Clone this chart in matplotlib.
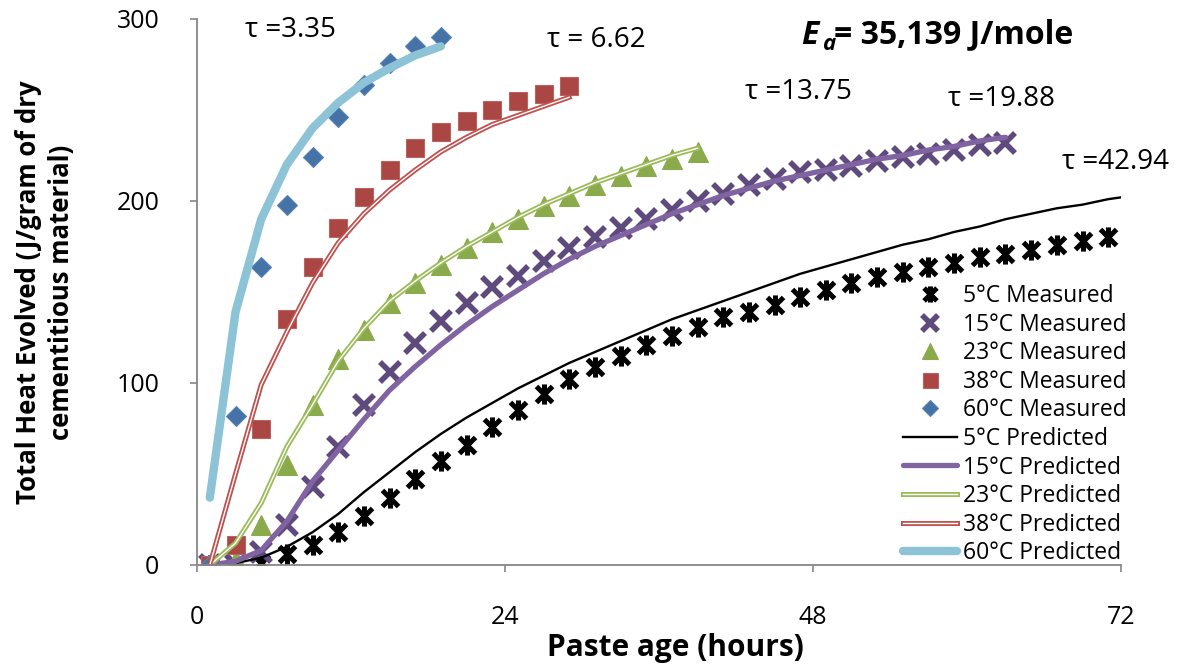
import matplotlib
matplotlib.use("Agg")
import matplotlib.pyplot as plt
from matplotlib.path import Path
from matplotlib.lines import Line2D

plt.rcParams['font.family'] = ['Open Sans', 'DejaVu Sans']

# ---------------- data ----------------
hours_5 = list(range(1, 72, 2))
meas_5 = [0, 0, 1, 6, 11, 18, 27, 37, 47, 57, 66, 76, 85, 94, 102, 109, 115, 121,
          126, 131, 136, 139, 143, 147, 151, 155, 158, 161, 164, 166, 169, 171, 173,
          176, 178, 180]
hours_5_pred = hours_5 + [72]
pred_5 = [0, 1, 4, 10, 18, 28, 40, 51, 62, 72, 81, 89, 97, 104, 111, 117, 123, 129,
          135, 140, 145, 150, 155, 160, 164, 168, 172, 176, 179, 183, 186, 190, 193,
          196, 198, 201, 202]

hours_15 = list(range(1, 64, 2))
meas_15 = [0, 0, 7, 22, 43, 65, 88, 106, 122, 134, 144, 153, 159, 167, 174, 180,
           185, 190, 195, 200, 204, 209, 212, 216, 217, 219, 222, 224, 226, 228, 231, 232]
pred_15 = [0, 2, 8, 24, 46, 63, 80, 96, 109, 121, 132, 142, 151, 160, 168, 175,
           181, 187, 193, 198, 203, 207, 211, 214, 217, 220, 223, 225, 228, 230, 233, 235]

hours_23 = list(range(1, 40, 2))
meas_23 = [0, 3, 22, 55, 88, 113, 129, 144, 155, 165, 174, 183, 190, 197, 203, 209,
           214, 219, 223, 227]
pred_23 = [0, 12, 34, 65, 88, 112, 130, 145, 156, 166, 175, 183, 191, 198, 204, 210,
           215, 220, 225, 229]

hours_38 = list(range(1, 30, 2))
meas_38 = [0, 11, 75, 135, 164, 185, 202, 217, 229, 238, 244, 250, 255, 259, 263]
pred_38 = [0, 50, 99, 128, 155, 177, 193, 206, 217, 227, 235, 242, 247, 252, 257]

hours_60 = list(range(1, 20, 2))
meas_60 = [0, 82, 164, 198, 224, 246, 264, 276, 285, 290]
pred_60 = [37, 139, 190, 220, 240, 254, 265, 273, 280, 285]

x_ticks = [0, 24, 48, 72]
y_ticks = [0, 100, 200, 300]

tau_labels = ["τ =3.35", "τ = 6.62", "τ =13.75", "τ =19.88", "τ =42.94"]
tau_pos = [(290, 30), (596, 40), (798, 92), (1002, 99), (1116, 162)]  # pixel positions

# ---------------- styling ----------------
W, H = 1180, 669
fig = plt.figure(figsize=(W / 100, H / 100), dpi=100)
ax = fig.add_axes([197 / W, 1 - 565 / H, (1121 - 197) / W, (565 - 19) / H])

star = Path([(-1, -1), (1, 1), (-1, 1), (1, -1), (0, -1.25), (0, 1.25)],
            [Path.MOVETO, Path.LINETO, Path.MOVETO, Path.LINETO, Path.MOVETO, Path.LINETO])

c_black = 'black'
c_purple_m = '#5F4A7E'
c_purple_l = '#8064A2'
c_green_m = '#8BAA4C'
c_green_l = '#9BBB59'
c_red_m = '#AA4643'
c_red_l = '#C0504D'
c_blue_m = '#4572A7'
c_blue_l = '#8CC3D7'

# measured
h_m5, = ax.plot(hours_5, meas_5, linestyle='none', marker=star, ms=14.5, mfc='none',
                mec=c_black, mew=3.6)
h_m15, = ax.plot(hours_15, meas_15, linestyle='none', marker='x', ms=14.5, mec=c_purple_m,
                 mew=4.0)
h_m23, = ax.plot(hours_23, meas_23, linestyle='none', marker='^', ms=14.5, mfc=c_green_m,
                 mec=c_green_m, mew=0.8)
h_m38, = ax.plot(hours_38, meas_38, linestyle='none', marker='s', ms=13.5, mfc=c_red_m,
                 mec='#B86562', mew=0.8)
h_m60, = ax.plot(hours_60, meas_60, linestyle='none', marker='D', ms=10, mfc=c_blue_m,
                 mec='#5A84B5', mew=0.8)

# predicted
h_p5, = ax.plot(hours_5_pred, pred_5, color=c_black, lw=1.7)
h_p15, = ax.plot(hours_15, pred_15, color=c_purple_l, lw=3.8, solid_capstyle='round')
h_p23a, = ax.plot(hours_23, pred_23, color=c_green_l, lw=3.6)
h_p23b, = ax.plot(hours_23, pred_23, color='white', lw=1.0)
h_p38a, = ax.plot(hours_38, pred_38, color=c_red_l, lw=3.6)
h_p38b, = ax.plot(hours_38, pred_38, color='white', lw=1.0)
h_p60, = ax.plot(hours_60, pred_60, color=c_blue_l, lw=6.0, solid_capstyle='round')

ax.set_xlim(0, 72)
ax.set_ylim(0, 300)
ax.set_xticks(x_ticks)
ax.set_yticks(y_ticks)
for s in ['top', 'right']:
    ax.spines[s].set_visible(False)
for s in ['left', 'bottom']:
    ax.spines[s].set_color('#868686')
    ax.spines[s].set_linewidth(1.3)
ax.tick_params(axis='both', direction='out', length=5, width=1.2, color='#868686',
               labelsize=18)
ax.tick_params(axis='y', pad=22)
ax.tick_params(axis='x', pad=24)

ax.set_xlabel("Paste age (hours)", fontsize=21.5, fontweight='bold')
ax.xaxis.set_label_coords(0.518, -0.124)
ax.set_ylabel("Total Heat Evolved (J/gram of dry\ncementitious material)",
              fontsize=18.5, fontweight='bold', labelpad=30, linespacing=1.3)

for lab, (px, py) in zip(tau_labels, tau_pos):
    fig.text(px / W, 1 - py / H, lab, fontsize=20, ha='center', va='center')

fig.text(801 / W, 1 - 35 / H, "E", fontsize=23, fontweight='bold', fontstyle='italic',
         ha='left', va='center')
fig.text(822 / W, 1 - 45 / H, "a", fontsize=16, fontweight='bold', fontstyle='italic',
         ha='left', va='center')
fig.text(834 / W, 1 - 35 / H, "= 35,139 J/mole", fontsize=23, fontweight='bold',
         ha='left', va='center')

handles = [h_m5, h_m15, h_m23, h_m38, h_m60, h_p5, h_p15, (h_p23a, h_p23b),
           (h_p38a, h_p38b), h_p60]
labels = ["5°C Measured", "15°C Measured", "23°C Measured", "38°C Measured",
          "60°C Measured", "5°C Predicted", "15°C Predicted", "23°C Predicted",
          "38°C Predicted", "60°C Predicted"]
leg = fig.legend(handles, labels, loc='upper left', bbox_to_anchor=(903 / W, 1 - 284 / H),
                 frameon=False, fontsize=16.5, handlelength=2.35, handletextpad=0.25,
                 labelspacing=0.2, borderpad=0, borderaxespad=0, markerscale=0.8)

fig.savefig("out.png", dpi=100)
